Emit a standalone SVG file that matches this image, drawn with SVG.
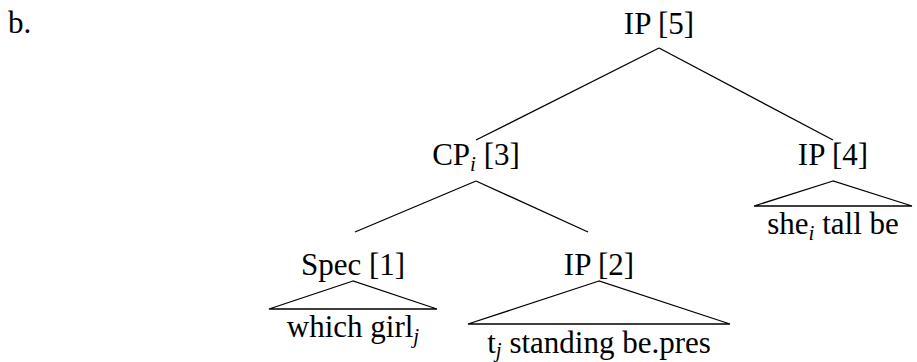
<svg xmlns="http://www.w3.org/2000/svg" width="917" height="362" viewBox="0 0 917 362">
<rect width="917" height="362" fill="#fff"/>
<text x="8" y="33" font-family="Liberation Serif" font-size="31">b.</text>
<g id="connectors" stroke="#000" stroke-width="1.3" fill="none">
<line x1="659" y1="48" x2="476" y2="140"/>
<line x1="659" y1="48" x2="833" y2="140"/>
<line x1="476" y1="181" x2="355" y2="232"/>
<line x1="476" y1="181" x2="588" y2="232"/>
</g>
<g id="ip5"><text text-anchor="middle" x="659" y="34" font-family="Liberation Serif" font-size="31">IP [5]</text></g>
<g id="cp3"><text text-anchor="middle" x="476" y="165" font-family="Liberation Serif" font-size="31">CP<tspan font-style="italic" font-size="21" dy="6">i</tspan><tspan dy="-6"> [3]</tspan></text></g>
<g id="ip4"><text text-anchor="middle" x="833" y="165" font-family="Liberation Serif" font-size="31">IP [4]</text>
<polygon points="833,181 754,206 912,206" fill="none" stroke="#000" stroke-width="1.3"/>
<text text-anchor="middle" x="833" y="234" font-family="Liberation Serif" font-size="31">she<tspan font-style="italic" font-size="21" dy="6">i</tspan><tspan dy="-6"> tall be</tspan></text></g>
<g id="spec1"><text text-anchor="middle" x="353" y="275" font-family="Liberation Serif" font-size="31">Spec [1]</text>
<polygon points="353,281 269,309 437,309" fill="none" stroke="#000" stroke-width="1.3"/>
<text text-anchor="middle" x="353" y="337" font-family="Liberation Serif" font-size="31">which girl<tspan font-style="italic" font-size="21" dy="6">j</tspan></text></g>
<g id="ip2"><text text-anchor="middle" x="599" y="275" font-family="Liberation Serif" font-size="31">IP [2]</text>
<polygon points="599,281 468,324 730,324" fill="none" stroke="#000" stroke-width="1.3"/>
<text text-anchor="middle" x="599" y="353" font-family="Liberation Serif" font-size="31">t<tspan font-style="italic" font-size="21" dy="4">j</tspan><tspan dy="-4"> standing be.pres</tspan></text></g>
</svg>
